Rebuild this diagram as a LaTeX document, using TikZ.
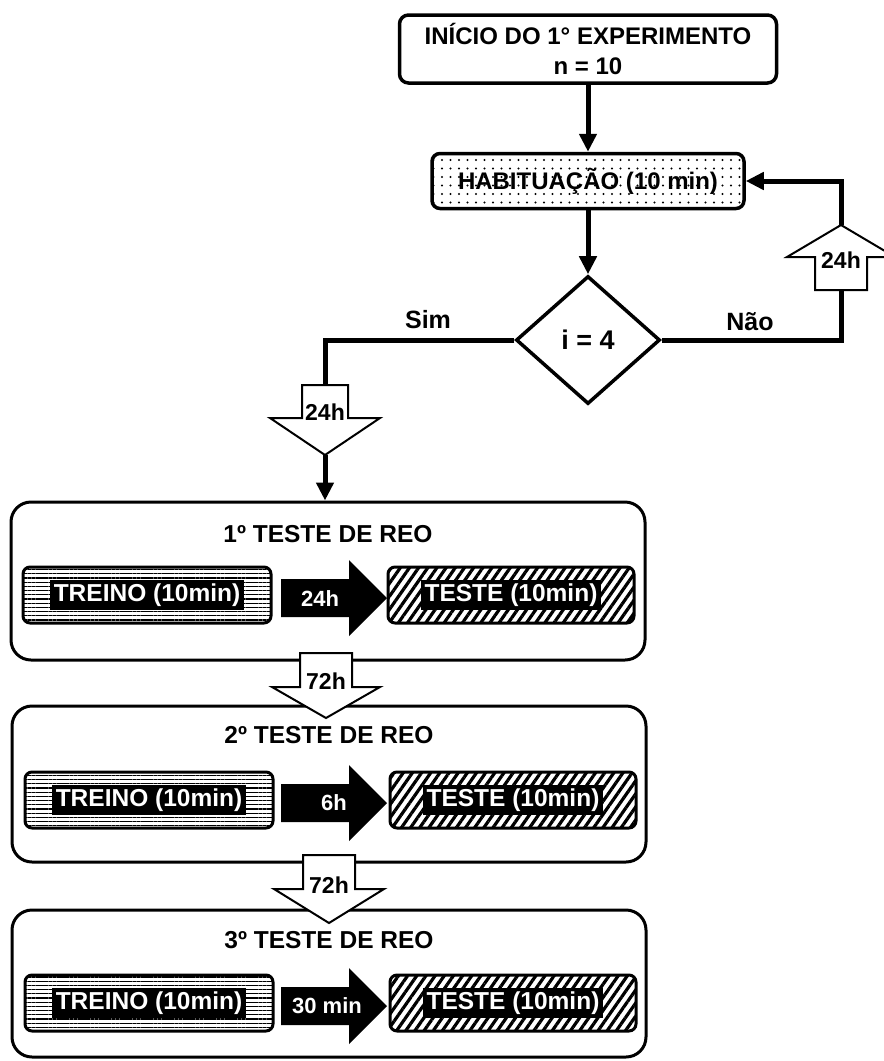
\documentclass[tikz,border=0pt]{standalone}
\usepackage{fontspec}
\setmainfont{Liberation Sans}
\usetikzlibrary{arrows.meta,shapes.geometric,patterns.meta}

\tikzset{
  flow/.style={line width=5pt, -{Triangle[length=18pt,width=17pt]}},
  flowline/.style={line width=5pt},
  startbox/.style={draw, line width=3.5pt, rounded corners=9pt, minimum width=377pt, minimum height=68pt, align=center, font=\bfseries\fontsize{24}{30}\selectfont},
  habbox/.style={draw, line width=3.5pt, rounded corners=8pt, minimum width=312pt, minimum height=55pt, pattern={Dots[distance=8.5pt,radius=1.1pt]}, font=\bfseries\fontsize{24}{28}\selectfont},
  decision/.style={diamond, draw, line width=3.5pt, minimum width=144pt, minimum height=128pt, inner sep=0pt, font=\bfseries\fontsize{27}{30}\selectfont},
  answer/.style={font=\bfseries\fontsize{25}{30}\selectfont},
  reobox/.style={draw, line width=3pt, rounded corners=20pt, minimum width=634pt},
  reotitle/.style={font=\bfseries\fontsize{24.5}{28}\selectfont},
  treino/.style={draw, line width=3pt, rounded corners=7pt, minimum width=248pt, minimum height=56pt, pattern={Lines[angle=0,distance=4.2pt,line width=1.2pt]}},
  teste/.style={draw, line width=3pt, rounded corners=7pt, minimum width=246pt, minimum height=56pt, pattern={Lines[angle=55,distance=7.5pt,line width=3.2pt]}},
  tag/.style={fill=black, text=white, inner xsep=4pt, inner ysep=0pt, minimum height=30pt, font=\bfseries\fontsize{24.5}{30}\selectfont},
  whitearrow/.style={draw, fill=white, line width=2pt},
  waittext/.style={inner sep=0pt, font=\bfseries\fontsize{23}{28}\selectfont},
  gaptext/.style={inner sep=0pt, text=white, font=\bfseries\fontsize{22}{26}\selectfont}
}

\begin{document}
\begin{tikzpicture}[x=1pt,y=-1pt]
\useasboundingbox (0,0) rectangle (884,1061);

% habituation loop
\node[startbox] (start) at (588,49) {INÍCIO DO 1° EXPERIMENTO\\n = 10};
\node[habbox] (hab) at (588,181) {HABITUAÇÃO (10 min)};
\node[decision] (decide) at (588,340) {i = 4};
\node[answer] (yes) at (428,320) {Sim};
\node[answer] (no) at (750,322) {Não};
\draw[flow] (start) -- (hab);
\draw[flow] (hab) -- (decide);

\coordinate (w1top) at (325,385);
\coordinate (w1tip) at (325,455);
\coordinate (w2base) at (841,290);
\coordinate (w2tip) at (841,225);
\draw[flowline] (decide.west) -| (w1top);
\draw[flowline] (decide.east) -| (w2base);
\draw[flow] (w2tip) |- (hab.east);

% the three tests
\node[reobox, minimum height=158pt] (reo1) at (328,581) {};
\node[reobox, minimum height=156pt] (reo2) at (329,784) {};
\node[reobox, minimum height=147pt] (reo3) at (329,983.5) {};
\draw[flow] (w1tip) -- (w1tip |- reo1.north);

\node[reotitle] (t1) at (328,534) {1º TESTE DE REO};
\node[reotitle] (t2) at (329,735) {2º TESTE DE REO};
\node[reotitle] (t3) at (329,940) {3º TESTE DE REO};

\node[treino, label={[tag]center:TREINO (10min)}] (tr1) at (147,595) {};
\node[teste, label={[tag]center:TESTE (10min)}] (te1) at (511,595) {};
\node[treino, label={[tag]center:TREINO (10min)}] (tr2) at (149,800) {};
\node[teste, label={[tag]center:TESTE (10min)}] (te2) at (513,800) {};
\node[treino, label={[tag]center:TREINO (10min)}] (tr3) at (149,1003) {};
\node[teste, label={[tag]center:TESTE (10min)}] (te3) at (513,1003) {};

\fill (281,579) -- (349,579) -- (349,560) -- (387,598) -- (349,636) -- (349,617) -- (281,617) -- cycle;
\fill (281,784) -- (349,784) -- (349,765) -- (387,803) -- (349,841) -- (349,822) -- (281,822) -- cycle;
\fill (281,987) -- (349,987) -- (349,968) -- (387,1006) -- (349,1044) -- (349,1025) -- (281,1025) -- cycle;
\node[gaptext] (g1) at (320,599) {24h};
\node[gaptext] (g2) at (334,803) {6h};
\node[gaptext] (g3) at (327,1006) {30 min};

% waiting arrows
\draw[whitearrow] (302,385) -- (348,385) -- (348,418) -- (380,418) -- (325,455) -- (270,418) -- (302,418) -- cycle;
\draw[whitearrow] (815,290) -- (867,290) -- (867,257) -- (895,257) -- (841,225) -- (787,257) -- (815,257) -- cycle;
\draw[whitearrow] (300,653) -- (352,653) -- (352,687) -- (380,687) -- (326,718) -- (272,687) -- (300,687) -- cycle;
\draw[whitearrow] (303,855) -- (355,855) -- (355,889) -- (384,889) -- (329,923) -- (274,889) -- (303,889) -- cycle;
\node[waittext] (d1) at (325,412) {24h};
\node[waittext] (d2) at (841,260) {24h};
\node[waittext] (d3) at (326,681) {72h};
\node[waittext] (d4) at (329,885) {72h};
\end{tikzpicture}
\end{document}
